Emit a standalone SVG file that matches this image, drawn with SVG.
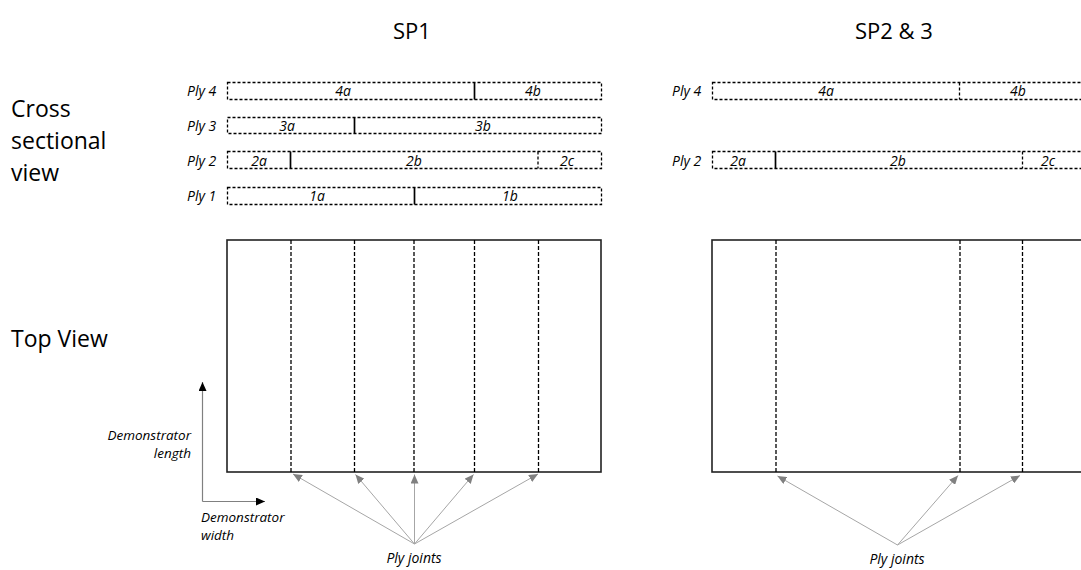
<svg xmlns="http://www.w3.org/2000/svg" width="1081" height="570" viewBox="0 0 1081 570">
<style>
.title{font-family:"Open Sans","Liberation Sans",sans-serif;font-size:22px;fill:#000;text-anchor:middle}
.side{font-family:"Open Sans","Liberation Sans",sans-serif;font-size:23px;fill:#000}
.lbl{font-family:"Open Sans","Liberation Sans",sans-serif;font-size:14px;font-style:italic;fill:#000}
.ax{font-family:"Open Sans","Liberation Sans",sans-serif;font-size:13.5px;font-style:italic;fill:#000}
.seg{font-family:"Open Sans","Liberation Sans",sans-serif;font-size:14px;font-style:italic;fill:#000;text-anchor:middle}
.ply{fill:#fff;stroke:#000;stroke-width:1.3;stroke-dasharray:3 2}
.solid{stroke:#000;stroke-width:1.7}
.dash{stroke:#000;stroke-width:1.3;stroke-dasharray:3 2}
.top{fill:#fff;stroke:#222;stroke-width:1.6}
.tdash{stroke:#000;stroke-width:1.3;stroke-dasharray:4 2}
.joint{stroke:#a6a6a6;stroke-width:1;fill:none;marker-end:url(#gh)}
.axis{stroke:#808080;stroke-width:1.2;fill:none;marker-end:url(#bh)}
</style>
<defs>
<marker id="gh" markerUnits="userSpaceOnUse" markerWidth="10" markerHeight="8" refX="9" refY="4" orient="auto"><path d="M0,0 L9,4 L0,8 z" fill="#808080"/></marker>
<marker id="bh" markerUnits="userSpaceOnUse" markerWidth="10" markerHeight="8" refX="9" refY="4" orient="auto"><path d="M0,0 L9,4 L0,8 z" fill="#000"/></marker>
</defs>
<rect width="1081" height="570" fill="#fff"/>

<g id="titles">
<text class="title" x="412" y="39">SP1</text>
<text class="title" x="894" y="39">SP2 &amp; 3</text>
</g>
<g id="side-labels">
<text class="side" x="11" y="117">Cross</text>
<text class="side" x="11" y="149">sectional</text>
<text class="side" x="11" y="181">view</text>
<text class="side" x="11" y="347">Top View</text>
</g>

<g id="sp1-ply4">
<text class="lbl" x="187" y="96">Ply 4</text>
<rect class="ply" x="227.5" y="82.5" width="374" height="17"/>
<line class="solid" x1="474.5" y1="82.5" x2="474.5" y2="99.5"/>
<text class="seg" x="343" y="96">4a</text>
<text class="seg" x="533" y="96">4b</text>
</g>
<g id="sp1-ply3">
<text class="lbl" x="187" y="131">Ply 3</text>
<rect class="ply" x="227.5" y="117.5" width="374" height="16"/>
<line class="solid" x1="354.5" y1="117.5" x2="354.5" y2="133.5"/>
<text class="seg" x="287" y="131">3a</text>
<text class="seg" x="483" y="131">3b</text>
</g>
<g id="sp1-ply2">
<text class="lbl" x="187" y="166">Ply 2</text>
<rect class="ply" x="227.5" y="151.5" width="374" height="17"/>
<line class="solid" x1="290.5" y1="151.5" x2="290.5" y2="168.5"/>
<line class="dash" x1="538" y1="151.5" x2="538" y2="168.5"/>
<text class="seg" x="259" y="166">2a</text>
<text class="seg" x="414" y="166">2b</text>
<text class="seg" x="567" y="166">2c</text>
</g>
<g id="sp1-ply1">
<text class="lbl" x="187" y="201">Ply 1</text>
<rect class="ply" x="227.5" y="187.5" width="374" height="17"/>
<line class="solid" x1="414.5" y1="187.5" x2="414.5" y2="204.5"/>
<text class="seg" x="317" y="201">1a</text>
<text class="seg" x="510" y="201">1b</text>
</g>

<g id="sp2-ply4">
<text class="lbl" x="672" y="96">Ply 4</text>
<rect class="ply" x="712.5" y="82.5" width="374" height="17"/>
<line class="dash" x1="959.5" y1="82.5" x2="959.5" y2="99.5"/>
<text class="seg" x="826" y="96">4a</text>
<text class="seg" x="1018" y="96">4b</text>
</g>
<g id="sp2-ply2">
<text class="lbl" x="672" y="166">Ply 2</text>
<rect class="ply" x="712.5" y="151.5" width="374" height="17"/>
<line class="solid" x1="775.5" y1="151.5" x2="775.5" y2="168.5"/>
<line class="dash" x1="1022.5" y1="151.5" x2="1022.5" y2="168.5"/>
<text class="seg" x="738" y="166">2a</text>
<text class="seg" x="898" y="166">2b</text>
<text class="seg" x="1048" y="166">2c</text>
</g>

<g id="sp1-top">
<rect class="top" x="227" y="240" width="374" height="232"/>
<line class="tdash" x1="291" y1="240" x2="291" y2="472"/>
<line class="tdash" x1="354.5" y1="240" x2="354.5" y2="472"/>
<line class="tdash" x1="414" y1="240" x2="414" y2="472"/>
<line class="tdash" x1="474.5" y1="240" x2="474.5" y2="472"/>
<line class="tdash" x1="538.5" y1="240" x2="538.5" y2="472"/>
</g>
<g id="sp2-top">
<rect class="top" x="712" y="240" width="374" height="232"/>
<line class="tdash" x1="776" y1="240" x2="776" y2="472"/>
<line class="tdash" x1="960" y1="240" x2="960" y2="472"/>
<line class="tdash" x1="1022.5" y1="240" x2="1022.5" y2="472"/>
</g>

<g id="axes">
<line class="axis" x1="202.5" y1="501.5" x2="202.5" y2="382"/>
<line class="axis" x1="202.5" y1="501.5" x2="265" y2="501.5"/>
<text class="ax" x="191" y="440" text-anchor="end">Demonstrator</text>
<text class="ax" x="191" y="458" text-anchor="end">length</text>
<text class="ax" x="201" y="522">Demonstrator</text>
<text class="ax" x="201" y="540">width</text>
</g>

<g id="connectors">
<line class="joint" x1="414.5" y1="544" x2="293" y2="474"/>
<line class="joint" x1="414.5" y1="544" x2="355.5" y2="474.5"/>
<line class="joint" x1="414.5" y1="544" x2="414.5" y2="474.5"/>
<line class="joint" x1="414.5" y1="544" x2="473.5" y2="474.5"/>
<line class="joint" x1="414.5" y1="544" x2="538" y2="474"/>
<line class="joint" x1="897.5" y1="545" x2="777.5" y2="476"/>
<line class="joint" x1="897.5" y1="545" x2="958" y2="475.5"/>
<line class="joint" x1="897.5" y1="545" x2="1020" y2="475.5"/>
</g>

<g id="joint-labels">
<text class="lbl" x="414" y="563" text-anchor="middle">Ply joints</text>
<text class="lbl" x="897" y="564" text-anchor="middle">Ply joints</text>
</g>
</svg>
